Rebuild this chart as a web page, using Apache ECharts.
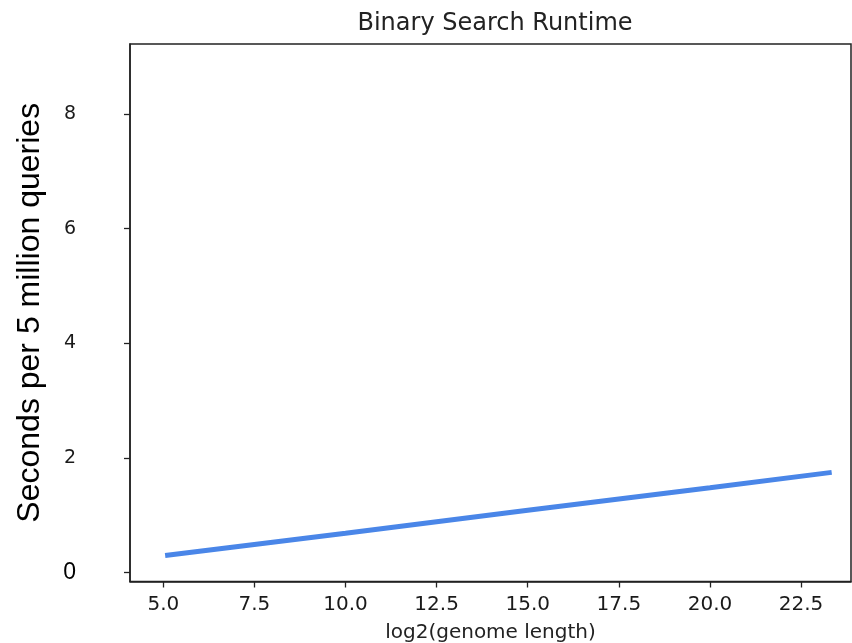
<!DOCTYPE html>
<html>
<head>
<meta charset="utf-8">
<script src="https://cdn.jsdelivr.net/npm/echarts@6/dist/echarts.min.js"></script>
<style>
html,body{margin:0;padding:0;background:#fff;}
#chart{width:852px;height:643px;}
</style>
</head>
<body>
<div id="chart"></div>
<script>
// Data
const genomeLog2 = [5.05, 10, 15, 20, 23.34];
const seconds = [0.30, 0.69, 1.09, 1.48, 1.75];
const xTickValues = [5, 7.5, 10, 12.5, 15, 17.5, 20, 22.5];
const yTickValues = [0, 2, 4, 6, 8];

const chart = echarts.init(document.getElementById('chart'), null, {renderer: 'canvas'});
const option = {
  animation: false,
  backgroundColor: '#ffffff',
  title: {
    text: 'Binary Search Runtime',
    left: 490,
    textAlign: 'center',
    top: 7,
    textStyle: {fontFamily: 'DejaVu Sans', fontSize: 24, fontWeight: 'normal', color: '#222'}
  },
  grid: {
    left: 130, right: 1, top: 44, bottom: 61.5,
    containLabel: false,
    outerBoundsMode: 'none',
    show: true, borderColor: '#222', borderWidth: 1.5, backgroundColor: 'transparent'
  },
  xAxis: {
    type: 'value',
    min: 4.086, max: 23.87,
    name: 'log2(genome length)',
    nameLocation: 'middle',
    nameGap: 41,
    nameTextStyle: {fontFamily: 'DejaVu Sans', fontSize: 20, color: '#222'},
    axisLine: {show: true, onZero: false, lineStyle: {color: '#222', width: 1.5}},
    axisTick: {show: true, length: 6, customValues: xTickValues, lineStyle: {color: '#222', width: 1.3}},
    axisLabel: {
      customValues: xTickValues, margin: 13,
      fontFamily: 'DejaVu Sans', fontSize: 20, color: '#1a1a1a',
      formatter: v => Number(v).toFixed(1)
    },
    splitLine: {show: false}
  },
  yAxis: {
    type: 'value',
    min: -0.153, max: 9.22,
    name: 'Seconds per 5 million queries',
    nameLocation: 'middle',
    nameRotate: 90,
    nameGap: 84,
    nameTextStyle: {fontFamily: 'Liberation Sans', fontSize: 32, color: '#000'},
    axisLine: {show: true, onZero: false, lineStyle: {color: '#222', width: 1.5}},
    axisTick: {show: true, length: 6, customValues: yTickValues, lineStyle: {color: '#222', width: 1.3}},
    axisLabel: {
      customValues: yTickValues, margin: 54,
      fontFamily: 'DejaVu Sans', fontSize: 19, color: '#1a1a1a',
      formatter: v => (v === 0 ? '{z|0}' : String(v)),
      rich: {z: {fontFamily: 'Liberation Sans', fontSize: 23, color: '#000'}}
    },
    splitLine: {show: false}
  },
  series: [{
    type: 'line',
    data: genomeLog2.map((x, i) => [x, seconds[i]]),
    showSymbol: false,
    symbol: 'none',
    lineStyle: {color: '#4a86e8', width: 5, cap: 'butt'},
    itemStyle: {color: '#4a86e8'}
  }]
};
chart.setOption(option);
</script>
</body>
</html>
